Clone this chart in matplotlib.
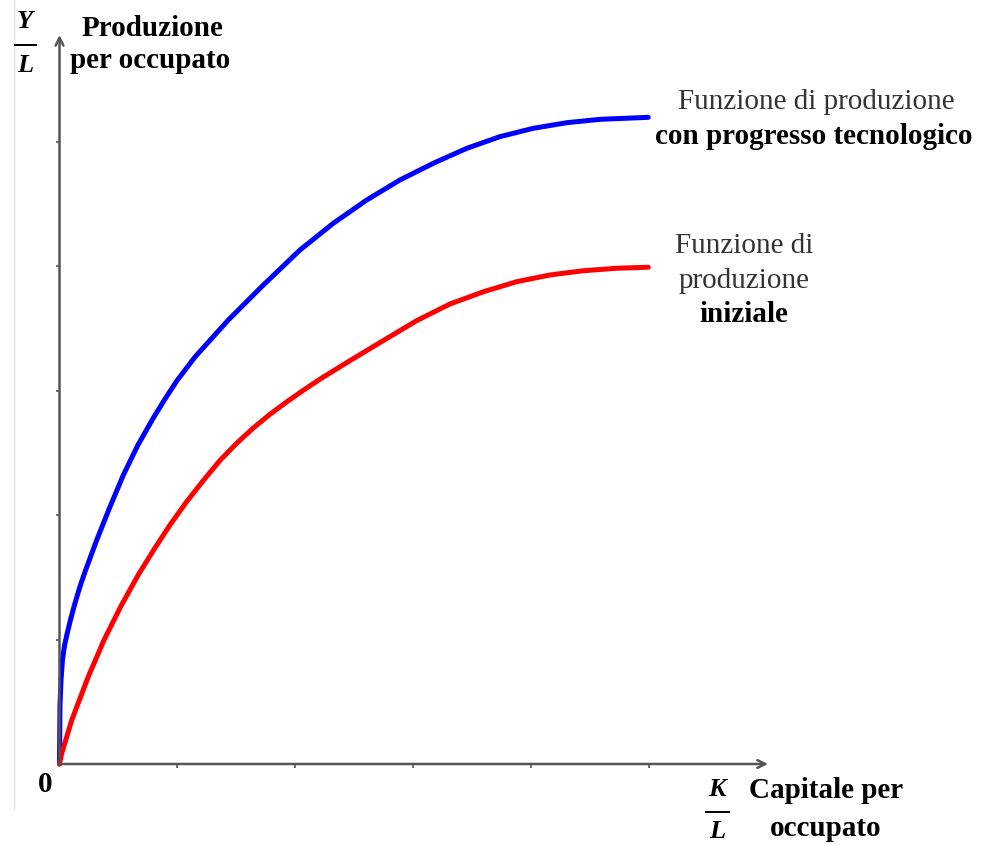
import matplotlib
matplotlib.use("Agg")
from matplotlib import pyplot as plt
from matplotlib.lines import Line2D

# Capitale per occupato (tick units) and output per worker
k_blue = [0, 0.004, 0.013, 0.025, 0.042, 0.064, 0.093, 0.127, 0.174, 0.216,
          0.316, 0.429, 0.542, 0.666, 0.796, 0.896, 0.995, 1.150, 1.433, 1.716,
          2.042, 2.324, 2.608, 2.890, 3.173, 3.457, 3.739, 4.022, 4.306, 4.588,
          4.998]
y_blue = [0, 0.474, 0.675, 0.835, 0.948, 1.044, 1.157, 1.277, 1.426, 1.542,
          1.799, 2.067, 2.321, 2.562, 2.779, 2.932, 3.076, 3.269, 3.566, 3.834,
          4.129, 4.343, 4.530, 4.691, 4.825, 4.945, 5.039, 5.106, 5.151, 5.178,
          5.194]

k_red = [0, 0.019, 0.104, 0.244, 0.378, 0.522, 0.666, 0.802, 0.938, 1.080,
         1.221, 1.362, 1.504, 1.645, 1.787, 1.929, 2.070, 2.211, 2.466, 2.749,
         3.032, 3.315, 3.598, 3.881, 4.164, 4.447, 4.730, 4.998]
y_red = [0, 0.086, 0.353, 0.701, 0.996, 1.269, 1.515, 1.723, 1.920, 2.108,
         2.277, 2.438, 2.576, 2.699, 2.809, 2.909, 3.002, 3.091, 3.240, 3.401,
         3.561, 3.695, 3.793, 3.874, 3.928, 3.962, 3.982, 3.990]

x_ticks = [1, 2, 3, 4, 5]
y_ticks = [1, 2, 3, 4, 5]

W, H = 988, 844
serif = "Liberation Serif"
x0, y0 = 59.5, 764      # origin in pixels
ux, uy = 117.8, 124.5   # pixels per tick
x_max, y_max = (768 - x0) / ux, (y0 - 35) / uy


def fx(px):
    return px / W


def fy(py):
    return 1 - py / H


fig = plt.figure(figsize=(W / 100, H / 100), dpi=100)
ax = fig.add_axes([fx(x0), fy(y0), x_max * ux / W, y_max * uy / H])
ax.set_xlim(0, x_max)
ax.set_ylim(0, y_max)

ax.plot(k_blue, y_blue, color="#0000ff", lw=3.6, solid_capstyle="round",
        solid_joinstyle="round", clip_on=False)
ax.plot(k_red, y_red, color="#ff0000", lw=3.6, solid_capstyle="round",
        solid_joinstyle="round", clip_on=False)

# axes drawn as arrows
for sp in ax.spines.values():
    sp.set_visible(False)
axis_col = "#555555"
for end in [(x_max, 0), (0, y_max)]:
    ax.annotate("", xy=end, xytext=(0, 0),
                arrowprops=dict(arrowstyle="->", color=axis_col, lw=1.8,
                                shrinkA=0, shrinkB=0, mutation_scale=14),
                annotation_clip=False)
ax.set_xticks(x_ticks)
ax.set_yticks(y_ticks)
ax.set_xticklabels([])
ax.set_yticklabels([])
ax.tick_params(length=3, width=1.2, color=axis_col, direction="out")

# faint border line at the left
fig.add_artist(Line2D([fx(14), fx(14)], [fy(0), fy(810)], color="#e4e4e4", lw=1))


def label(px, py, s, bold=False, italic=False, size=21, color="black"):
    fig.text(fx(px), fy(py), s, fontfamily=serif, fontsize=size, color=color,
             fontweight="bold" if bold else "normal",
             style="italic" if italic else "normal", ha="center", va="center")


# axis labels
label(152, 29, "Produzione", bold=True)
label(150, 61, "per occupato", bold=True)
label(25, 21, "Y", bold=True, italic=True, size=19)
fig.add_artist(Line2D([fx(15), fx(36)], [fy(45), fy(45)], color="black", lw=1.4))
label(25, 66, "L", bold=True, italic=True, size=19)

label(45, 784, "0", bold=True, size=21)

label(717, 790, "K", bold=True, italic=True, size=19)
fig.add_artist(Line2D([fx(706), fx(729)], [fy(812), fy(812)], color="black", lw=1.4))
label(717, 832, "L", bold=True, italic=True, size=19)
label(826, 791, "Capitale per", bold=True)
label(826, 829, "occupato", bold=True)

# curve labels
label(816, 102, "Funzione di produzione", color="#333333")
label(814, 137, "con progresso tecnologico", bold=True)
label(744, 246, "Funzione di", color="#333333")
label(744, 281, "produzione", color="#333333")
label(744, 315, "iniziale", bold=True)

fig.savefig("out.png", dpi=100)
